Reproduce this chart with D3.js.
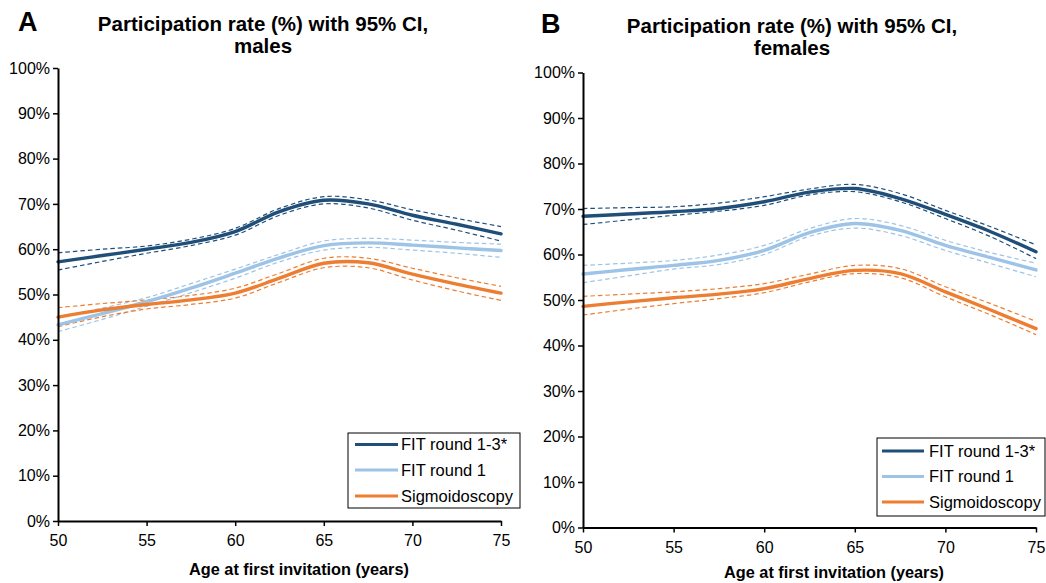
<!DOCTYPE html>
<html>
<head>
<meta charset="utf-8">
<script src="https://cdn.jsdelivr.net/npm/d3@7"></script>
<style>
  html, body { margin: 0; padding: 0; background: #fff; }
  svg { display: block; font-family: "Liberation Sans", Arial, sans-serif; }
</style>
</head>
<body>
<svg id="chart" width="1046" height="583"></svg>
<script>
// ---------- data ----------
const ages = [50, 52.5, 55, 57.5, 60, 62.5, 65, 67.5, 70, 72.5, 75];
const xTicks = [50, 55, 60, 65, 70, 75];
const yTicks = [0, 10, 20, 30, 40, 50, 60, 70, 80, 90, 100];
const seriesNames = ["FIT round 1-3*", "FIT round 1", "Sigmoidoscopy"];
const seriesColors = ["#1f4e79", "#9dc3e6", "#ed7d31"];
const panelLetters = ["A", "B"];
const panelTitles = [["Participation rate (%) with 95% CI,", "males"],
                     ["Participation rate (%) with 95% CI,", "females"]];
const xAxisTitle = "Age at first invitation (years)";

// males
const malesFit13      = [57.2, 58.6, 60.0, 61.5, 63.9, 68.3, 70.8, 70.0, 67.5, 65.5, 63.4];
const malesFit13Upper = [59.2, 60.0, 60.7, 62.2, 64.6, 69.0, 71.6, 70.9, 68.7, 66.8, 65.0];
const malesFit13Lower = [55.4, 57.3, 59.1, 60.8, 63.1, 67.5, 70.0, 69.1, 66.4, 64.2, 61.8];
const malesFit1       = [43.3, 45.8, 48.4, 51.4, 54.7, 58.1, 60.8, 61.4, 60.9, 60.3, 59.7];
const malesFit1Upper  = [45.0, 47.0, 49.3, 52.4, 55.6, 58.9, 61.8, 62.4, 62.0, 61.5, 61.1];
const malesFit1Lower  = [41.8, 44.5, 47.4, 50.4, 53.6, 57.2, 59.8, 60.4, 59.8, 59.1, 58.2];
const malesSig        = [45.0, 46.6, 47.8, 48.8, 50.3, 53.6, 56.9, 57.0, 54.5, 52.3, 50.3];
const malesSigUpper   = [47.1, 48.0, 48.8, 49.8, 51.4, 54.7, 58.0, 58.0, 55.8, 53.7, 51.8];
const malesSigLower   = [42.9, 45.1, 46.8, 47.8, 49.2, 52.7, 55.9, 55.9, 53.2, 50.8, 48.7];

// females
const femalesFit13      = [68.4, 68.9, 69.4, 70.1, 71.6, 73.7, 74.5, 72.3, 68.8, 65.0, 60.6];
const femalesFit13Upper = [70.1, 70.3, 70.5, 71.3, 72.7, 74.4, 75.4, 73.4, 69.7, 66.1, 62.1];
const femalesFit13Lower = [66.6, 67.6, 68.6, 69.5, 70.8, 73.1, 73.8, 71.6, 67.9, 63.9, 59.1];
const femalesFit1       = [55.7, 56.7, 57.6, 58.7, 60.9, 64.8, 66.8, 65.3, 62.0, 59.3, 56.6];
const femalesFit1Upper  = [57.6, 58.1, 58.7, 59.9, 62.0, 65.7, 67.9, 66.4, 63.1, 60.4, 58.1];
const femalesFit1Lower  = [53.8, 55.3, 56.8, 57.8, 60.0, 64.0, 65.8, 64.2, 60.9, 58.0, 55.1];
const femalesSig        = [48.6, 49.6, 50.5, 51.3, 52.5, 54.7, 56.5, 55.8, 51.8, 47.8, 43.7];
const femalesSigUpper   = [50.8, 51.3, 51.8, 52.5, 53.6, 55.7, 57.6, 56.9, 52.9, 49.2, 45.3];
const femalesSigLower   = [46.7, 48.0, 49.2, 50.3, 51.6, 54.0, 55.8, 54.9, 50.7, 46.7, 42.4];

const panelsData = [
  [[malesFit13, malesFit13Upper, malesFit13Lower],
   [malesFit1, malesFit1Upper, malesFit1Lower],
   [malesSig, malesSigUpper, malesSigLower]],
  [[femalesFit13, femalesFit13Upper, femalesFit13Lower],
   [femalesFit1, femalesFit1Upper, femalesFit1Lower],
   [femalesSig, femalesSigUpper, femalesSigLower]]
];

// ---------- layout ----------
const layouts = [
  { x0: 58, x1: 501, y0: 521, y1: 68, titleX: 263, titleY: 31, letterX: 18, letterY: 31,
    xTitleX: 299, xTitleY: 575,
    legend: { x: 348, y: 433, w: 172, h: 75, lineX0: 355, lineX1: 398, textX: 401, rows: [444.5, 470, 496] } },
  { x0: 583, x1: 1036, y0: 527.5, y1: 72.5, titleX: 792, titleY: 33, letterX: 541, letterY: 33,
    xTitleX: 834, xTitleY: 578,
    legend: { x: 877, y: 438, w: 168, h: 78, lineX0: 882, lineX1: 924, textX: 929, rows: [451, 476.5, 502] } }
];

const svg = d3.select("#chart");

layouts.forEach((L, p) => {
  const g = svg.append("g");
  const x = d3.scaleLinear().domain([50, 75]).range([L.x0, L.x1]);
  const y = d3.scaleLinear().domain([0, 100]).range([L.y0, L.y1]);

  // panel letter
  g.append("text").attr("x", L.letterX).attr("y", L.letterY)
    .attr("font-size", 27).attr("font-weight", "bold").attr("fill", "#000")
    .text(panelLetters[p]);

  // title
  const t = g.append("text").attr("text-anchor", "middle")
    .attr("font-size", 20.5).attr("font-weight", "bold").attr("fill", "#000");
  panelTitles[p].forEach((line, i) => {
    t.append("tspan").attr("x", L.titleX).attr("y", L.titleY + i * 22).text(line);
  });

  // lines
  const lineGen = d3.line()
    .x((d, i) => x(ages[i]))
    .y(d => y(d))
    .curve(d3.curveCatmullRom.alpha(0.5));

  const series = panelsData[p];
  // CI dashed lines first
  series.forEach((s, k) => {
    [s[1], s[2]].forEach(ci => {
      g.append("path").datum(ci)
        .attr("d", lineGen)
        .attr("fill", "none")
        .attr("stroke", seriesColors[k])
        .attr("stroke-width", 1.2)
        .attr("stroke-dasharray", "4.5,3");
    });
  });
  series.forEach((s, k) => {
    g.append("path").datum(s[0])
      .attr("d", lineGen)
      .attr("fill", "none")
      .attr("stroke", seriesColors[k])
      .attr("stroke-width", 3.4)
      .attr("stroke-linecap", "round");
  });

  // axes
  const yAxis = d3.axisLeft(y).tickValues(yTicks).tickFormat(d => d + "%")
    .tickSize(5).tickSizeOuter(0).tickPadding(3);
  const xAxis = d3.axisBottom(x).tickValues(xTicks).tickFormat(d3.format("d"))
    .tickSize(5).tickSizeOuter(0).tickPadding(9);

  const ya = g.append("g").attr("transform", `translate(${L.x0},0)`).call(yAxis);
  const xa = g.append("g").attr("transform", `translate(0,${L.y0})`).call(xAxis);
  [ya, xa].forEach(a => {
    a.select(".domain").attr("stroke", "#000").attr("stroke-width", 2);
    a.selectAll(".tick line").attr("stroke", "#000").attr("stroke-width", 1.5);
    a.selectAll(".tick text").attr("fill", "#000").attr("font-size", 16)
      .attr("font-family", "'Liberation Sans', Arial, sans-serif");
  });

  // x axis title
  g.append("text").attr("x", L.xTitleX).attr("y", L.xTitleY)
    .attr("text-anchor", "middle").attr("font-size", 16.3).attr("font-weight", "bold")
    .attr("fill", "#000").text(xAxisTitle);

  // legend
  const lg = L.legend;
  g.append("rect").attr("x", lg.x).attr("y", lg.y).attr("width", lg.w).attr("height", lg.h)
    .attr("fill", "#fff").attr("stroke", "#000").attr("stroke-width", 1);
  seriesNames.forEach((name, k) => {
    g.append("line").attr("x1", lg.lineX0).attr("x2", lg.lineX1)
      .attr("y1", lg.rows[k]).attr("y2", lg.rows[k])
      .attr("stroke", seriesColors[k]).attr("stroke-width", 3.2);
    g.append("text").attr("x", lg.textX).attr("y", lg.rows[k] + 5.8)
      .attr("font-size", 16.5).attr("fill", "#000").text(name);
  });
});
</script>
</body>
</html>
